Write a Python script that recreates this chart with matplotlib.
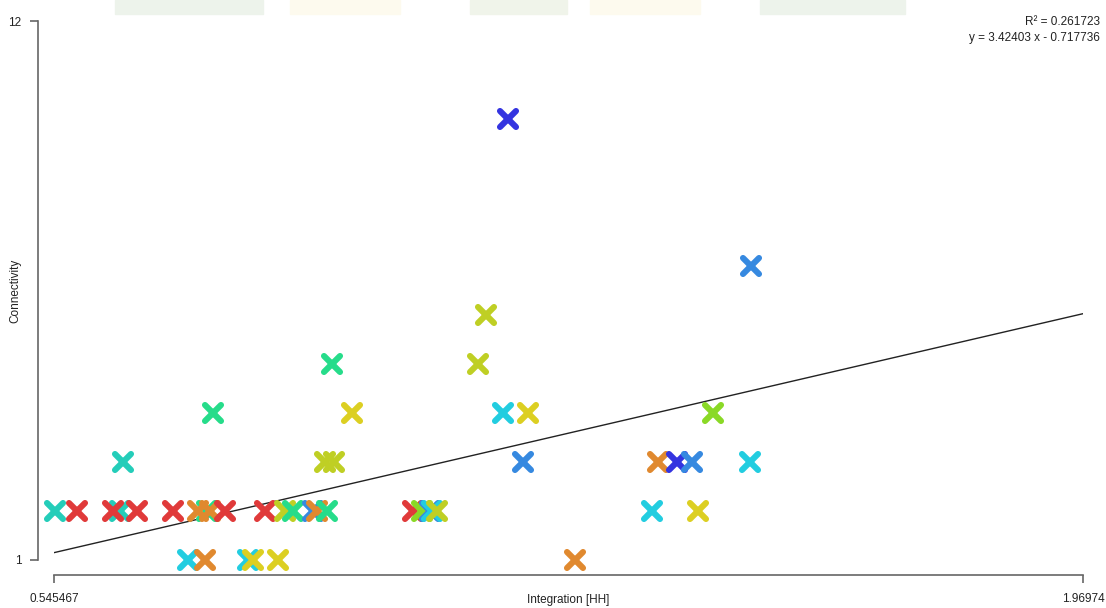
import matplotlib.pyplot as plt
from matplotlib.markers import MarkerStyle
from matplotlib.patches import Rectangle

# Integration [HH] vs Connectivity, one point per segment
integration = [
    0.5469, 0.5773, 0.6368, 0.6271, 0.6603, 0.7102, 0.7572, 0.7448, 0.7614, 0.7822,
    0.8375, 0.8652, 0.8763, 0.9040, 0.9095, 0.9233, 1.0424, 1.0548, 1.0659, 1.0687,
    1.0756, 1.3732, 1.4369,
    0.7309, 0.7545, 0.8140, 0.8209, 0.8555, 1.2666,
    0.6410, 0.9206, 0.9330, 1.1946, 1.3815, 1.4078, 1.4285, 1.5082,
    0.7655, 0.9579, 1.1669, 1.2016, 1.4576,
    0.9303, 1.1323,
    1.1434,
    1.5102,
    1.1739,
]
connectivity = [
    2, 2, 2, 2, 2, 2, 2, 2, 2, 2,
    2, 2, 2, 2, 2, 2, 2, 2, 2, 2,
    2, 2, 2,
    1, 1, 1, 1, 1, 1,
    3, 3, 3, 3, 3, 3, 3, 3,
    4, 4, 4, 4, 4,
    5, 5,
    6,
    7,
    10,
]
point_colors = [
    'teal', 'red', 'teal', 'red', 'red', 'red', 'green', 'orange', 'orange', 'red',
    'red', 'olive', 'green', 'blue', 'orange', 'green', 'red', 'lime', 'blue', 'cyan',
    'olive', 'cyan', 'yellow',
    'cyan', 'orange', 'cyan', 'yellow', 'yellow', 'orange',
    'teal', 'olive', 'olive', 'blue', 'orange', 'navy', 'blue', 'cyan',
    'green', 'yellow', 'cyan', 'yellow', 'lime',
    'green', 'olive',
    'olive',
    'blue',
    'navy',
]
palette = {
    'red': '#e03a3a', 'orange': '#e0892f', 'yellow': '#dccf22', 'olive': '#bfcf24',
    'lime': '#8ad926', 'green': '#26dc8a', 'teal': '#24cdb9', 'cyan': '#22cde0',
    'blue': '#3689e0', 'navy': '#3434e0',
}

slope, intercept = 3.42403, -0.717736
r_squared = 0.261723
x_min, x_max = 0.545467, 1.96974
y_min, y_max = 1, 12

plt.rcParams['font.family'] = ['Liberation Sans', 'DejaVu Sans']

W, H = 1106, 608
fig = plt.figure(figsize=(W / 100, H / 100), dpi=100)
ax = fig.add_axes([54 / W, (H - 560) / H, (1083 - 54) / W, (560 - 21) / H])

# faint banner strip along the top edge
banner = [(115, 263, '#edf3eb'), (290, 400, '#fdfaee'), (470, 567, '#f0f4ea'),
          (590, 700, '#fdfaee'), (760, 905, '#edf3eb')]
for x0, x1, c in banner:
    fig.patches.append(Rectangle((x0 / W, (H - 14) / H), (x1 - x0) / W, 14 / H,
                                 transform=fig.transFigure, color=c, zorder=0))

xs = [x_min, x_max]
ax.plot(xs, [slope * v + intercept for v in xs], color='#222222', lw=1.0, zorder=1)

mk = MarkerStyle('x', capstyle='round')
for xv, yv, c in zip(integration, connectivity, point_colors):
    ax.plot(xv, yv, linestyle='none', marker=mk, markersize=11.5,
            markeredgewidth=4.4, color=palette[c], clip_on=False, zorder=2)

ax.set_xlim(x_min, x_max)
ax.set_ylim(y_min, y_max)
ax.set_xticks([x_min, x_max])
ax.set_xticklabels(['0.545467', '1.96974'])
ax.set_yticks([y_min, y_max])
ax.set_yticklabels(['1', '12'])

for side in ['top', 'right']:
    ax.spines[side].set_visible(False)
ax.spines['left'].set_position(('outward', 11.5))
ax.spines['bottom'].set_position(('outward', 11))
for side in ['left', 'bottom']:
    ax.spines[side].set_color('#666666')
    ax.spines[side].set_linewidth(1.2)
ax.tick_params(axis='both', length=5.8, width=1.2, color='#666666',
               labelsize=8.5, labelcolor='#222222')
ax.tick_params(axis='x', pad=7)
ax.tick_params(axis='y', pad=6)

ax.set_xlabel('Integration [HH]', fontsize=8.5, color='#222222', labelpad=0)
ax.xaxis.set_label_coords(0.5, -0.063)
ax.set_ylabel('Connectivity', fontsize=8.5, color='#222222')
ax.yaxis.set_label_coords(-0.032, 0.5)

fig.text(1100 / W, 1 - 22 / H, 'R² = %g' % r_squared, ha='right', va='center',
         fontsize=8.5, color='#222222')
fig.text(1100 / W, 1 - 38 / H, 'y = %g x - %g' % (slope, -intercept), ha='right',
         va='center', fontsize=8.5, color='#222222')

fig.savefig('out.png', dpi=100)
